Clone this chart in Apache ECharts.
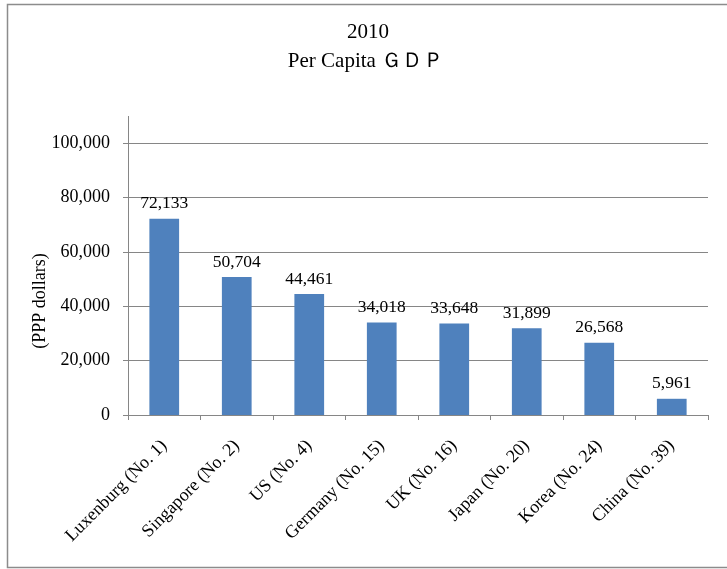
<!DOCTYPE html>
<html>
<head>
<meta charset="utf-8">
<script src="https://cdn.jsdelivr.net/npm/echarts@6/dist/echarts.min.js"></script>
<style>
  html, body { margin: 0; padding: 0; background: #fff; }
  #chart { width: 727px; height: 569px; }
</style>
</head>
<body>
<div id="chart"></div>
<script>
// 2010 per-capita GDP (PPP dollars), with world rank in parentheses
const countries = [
  'Luxenburg (No. 1)', 'Singapore (No. 2)', 'US (No. 4)', 'Germany (No. 15)',
  'UK (No. 16)', 'Japan (No. 20)', 'Korea (No. 24)', 'China (No. 39)'
];
const gdpPerCapita = [72133, 50704, 44461, 34018, 33648, 31899, 26568, 5961];
const yTicks = { min: 0, max: 100000, step: 20000 };
const titleLines = ['2010', 'Per Capita ＧＤＰ'];

const serif = '"Liberation Serif", "Times New Roman", serif';
const fmt = v => v.toLocaleString('en-US');

const chart = echarts.init(document.getElementById('chart'), null, { renderer: 'canvas' });

const gridLeft = 128, gridTop = 143, gridRight = 19, gridBottom = 154;

chart.setOption({
  backgroundColor: '#ffffff',
  animation: false,
  grid: { left: gridLeft, top: gridTop, right: gridRight, bottom: gridBottom, containLabel: false },
  xAxis: {
    type: 'category',
    data: countries,
    axisLine: { lineStyle: { color: '#868686', width: 1 } },
    axisTick: { show: true, length: 5, lineStyle: { color: '#868686' } },
    axisLabel: {
      rotate: 45,
      interval: 0,
      margin: 28,
      fontFamily: serif,
      fontSize: 18,
      color: '#000'
    }
  },
  yAxis: {
    type: 'value',
    min: yTicks.min,
    max: yTicks.max,
    interval: yTicks.step,
    axisLine: { show: true, lineStyle: { color: '#868686', width: 1 } },
    axisTick: { show: true, length: 5, lineStyle: { color: '#868686' } },
    splitLine: { show: true, lineStyle: { color: '#868686', width: 1 } },
    axisLabel: {
      margin: 18,
      fontFamily: serif,
      fontSize: 18,
      color: '#000',
      formatter: v => fmt(v)
    }
  },
  series: [{
    type: 'bar',
    data: gdpPerCapita,
    barCategoryGap: '59%',
    itemStyle: { color: '#4F81BD' },
    label: {
      show: true,
      position: 'top',
      distance: 6,
      fontFamily: serif,
      fontSize: 17.5,
      color: '#000',
      formatter: p => fmt(p.value)
    }
  }],
  graphic: [
    // outer frame of the chart area
    {
      type: 'rect',
      silent: true,
      shape: { x: 7.5, y: 4.5, width: 760, height: 563 },
      style: { fill: 'none', stroke: '#8c8c8c', lineWidth: 1.5 }
    },
    // value axis line continues a little above the top gridline
    {
      type: 'line',
      silent: true,
      shape: { x1: gridLeft + 0.5, y1: 116, x2: gridLeft + 0.5, y2: gridTop },
      style: { stroke: '#868686', lineWidth: 1 }
    },
    // chart title, two centred lines
    {
      type: 'text',
      silent: true,
      x: 368,
      y: 32,
      style: {
        text: titleLines[0],
        fontFamily: serif,
        fontSize: 21,
        fill: '#000',
        align: 'center',
        verticalAlign: 'middle'
      }
    },
    {
      type: 'text',
      silent: true,
      x: 366,
      y: 61,
      style: {
        text: titleLines[1],
        fontFamily: serif,
        fontSize: 21,
        fill: '#000',
        align: 'center',
        verticalAlign: 'middle'
      }
    },
    // axis title
    {
      type: 'text',
      silent: true,
      x: 40,
      y: 301,
      rotation: Math.PI / 2,
      style: {
        text: '(PPP dollars)',
        fontFamily: serif,
        fontSize: 18,
        fill: '#000',
        align: 'center',
        verticalAlign: 'middle'
      }
    }
  ]
});
</script>
</body>
</html>
